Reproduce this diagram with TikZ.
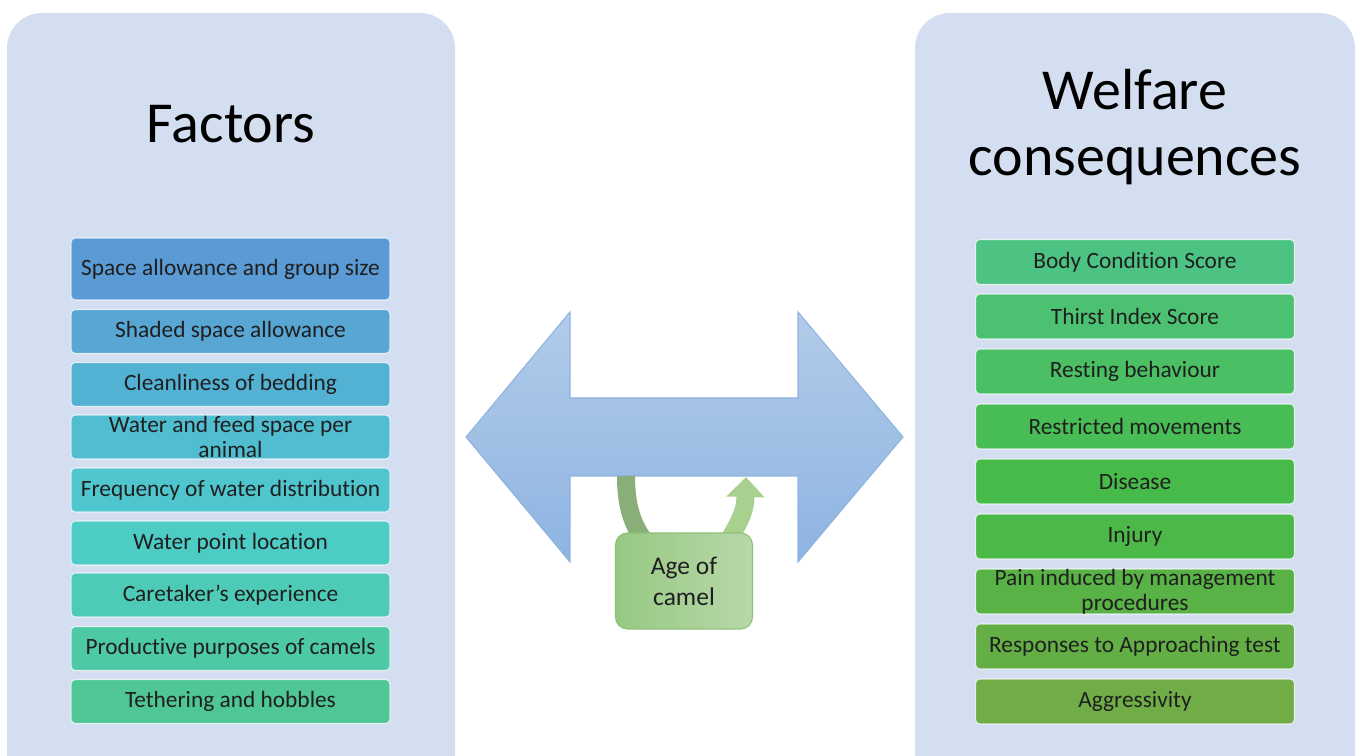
\documentclass[tikz,border=0pt]{standalone}
\usepackage{fontspec}
\setmainfont{Carlito}[Ligatures=NoCommon]
\usetikzlibrary{arrows.meta}

\definecolor{panelbg}{HTML}{D3DEF0}
\definecolor{arrowtop}{HTML}{B2CBE9}
\definecolor{arrowbot}{HTML}{8EB4E2}
\definecolor{arrowline}{HTML}{8FB4E0}
\definecolor{armdark}{HTML}{89AE78}
\definecolor{armlight}{HTML}{A8D08F}
\definecolor{ageleft}{HTML}{97C982}
\definecolor{ageright}{HTML}{B8D8A9}
\definecolor{ageline}{HTML}{8CC079}
% factor boxes
\definecolor{fa}{HTML}{5B9BD5}
\definecolor{fb}{HTML}{57A6D4}
\definecolor{fc}{HTML}{53B1D3}
\definecolor{fd}{HTML}{51BDD0}
\definecolor{fe}{HTML}{4FC5CD}
\definecolor{ff}{HTML}{4DCCC6}
\definecolor{fg}{HTML}{4DCBB6}
\definecolor{fh}{HTML}{4EC9A5}
\definecolor{fi}{HTML}{4FC795}
% consequence boxes
\definecolor{wa}{HTML}{4DC383}
\definecolor{wb}{HTML}{4CC172}
\definecolor{wc}{HTML}{4ABF63}
\definecolor{wd}{HTML}{48BD55}
\definecolor{we}{HTML}{47BB4A}
\definecolor{wf}{HTML}{4CB847}
\definecolor{wg}{HTML}{58B245}
\definecolor{wh}{HTML}{63AF45}
\definecolor{wi}{HTML}{70AD47}

\begin{document}
\begin{tikzpicture}[x=0.02cm,y=-0.02cm,
    panel/.style={fill=panelbg,rounded corners=0.7cm},
    title/.style={font={\fontsize{33}{37.5}\selectfont},align=center},
    item/.style={draw=white,draw opacity=0.7,line width=0.6pt,
        rounded corners=2.5pt,minimum width=6.38cm,minimum height=0.88cm,
        inner sep=0pt,align=center,text=black!88,
        font={\fontsize{13.3}{14.2}\selectfont}},
    uarm/.style={line width=0.36cm},
    agebox/.style={draw=ageline,line width=0.6pt,left color=ageleft,
        right color=ageright,rounded corners=0.24cm,minimum width=2.74cm,
        minimum height=1.92cm,align=center,text=black!88,
        font={\fontsize{14.5}{17.5}\selectfont}}]
\useasboundingbox (0,0) rectangle (1356,756);

% the two panels
\fill[panel] (7,13) rectangle (455,790);
\fill[panel] (915,13) rectangle (1355,790);
\node[title] (ftitle) at (231,124) {Factors};
\node[title] (wtitle) at (1135,127) {Welfare\\consequences};

% factors
\node[item,fill=fa,minimum height=1.24cm] (f1) at (230.5,269) {Space allowance and group size};
\node[item,fill=fb] (f2) at (230.5,331.5) {Shaded space allowance};
\node[item,fill=fc] (f3) at (230.5,384.5) {Cleanliness of bedding};
\node[item,fill=fd] (f4) at (230.5,437) {Water and feed space per\\animal};
\node[item,fill=fe] (f5) at (230.5,490) {Frequency of water distribution};
\node[item,fill=ff] (f6) at (230.5,543) {Water point location};
\node[item,fill=fg] (f7) at (230.5,595) {Caretaker’s experience};
\node[item,fill=fh] (f8) at (230.5,648.5) {Productive purposes of camels};
\node[item,fill=fi] (f9) at (230.5,701.5) {Tethering and hobbles};

% welfare consequences
\node[item,fill=wa,minimum height=0.9cm] (w1) at (1135,262) {Body Condition Score};
\node[item,fill=wb,minimum height=0.9cm] (w2) at (1135,316.5) {Thirst Index Score};
\node[item,fill=wc,minimum height=0.9cm] (w3) at (1135,371.5) {Resting behaviour};
\node[item,fill=wd,minimum height=0.9cm] (w4) at (1135,426.5) {Restricted movements};
\node[item,fill=we,minimum height=0.9cm] (w5) at (1135,481.5) {Disease};
\node[item,fill=wf,minimum height=0.9cm] (w6) at (1135,536.5) {Injury};
\node[item,fill=wg,minimum height=0.9cm] (w7) at (1135,591.5) {Pain induced by management\\procedures};
\node[item,fill=wh,minimum height=0.9cm] (w8) at (1135,646.5) {Responses to Approaching test};
\node[item,fill=wi,minimum height=0.9cm] (w9) at (1135,701.5) {Aggressivity};

% double arrow
\shadedraw[top color=arrowtop,bottom color=arrowbot,draw=arrowline,line width=0.6pt]
  (466,437) -- (570,312) -- (570,398) -- (798,398) -- (798,312) -- (903,437)
  -- (798,562) -- (798,476) -- (570,476) -- (570,562) -- cycle;

% u-turn through the age box
\coordinate (armtop1) at (626,476);
\coordinate (armtop2) at (746,477);
\coordinate (armbot1) at (652,550);
\coordinate (armbot2) at (724,550);
\draw[uarm,draw=armdark] (armtop1) .. controls (626,510) and (634,530) .. (armbot1);
\draw[uarm,draw=armlight,-{Triangle[width=0.74cm,length=0.4cm]}]
  (armbot2) .. controls (734,528) and (745,518) .. (armtop2);
\node[agebox] (age) at (684,581) {Age of\\camel};
\end{tikzpicture}
\end{document}
